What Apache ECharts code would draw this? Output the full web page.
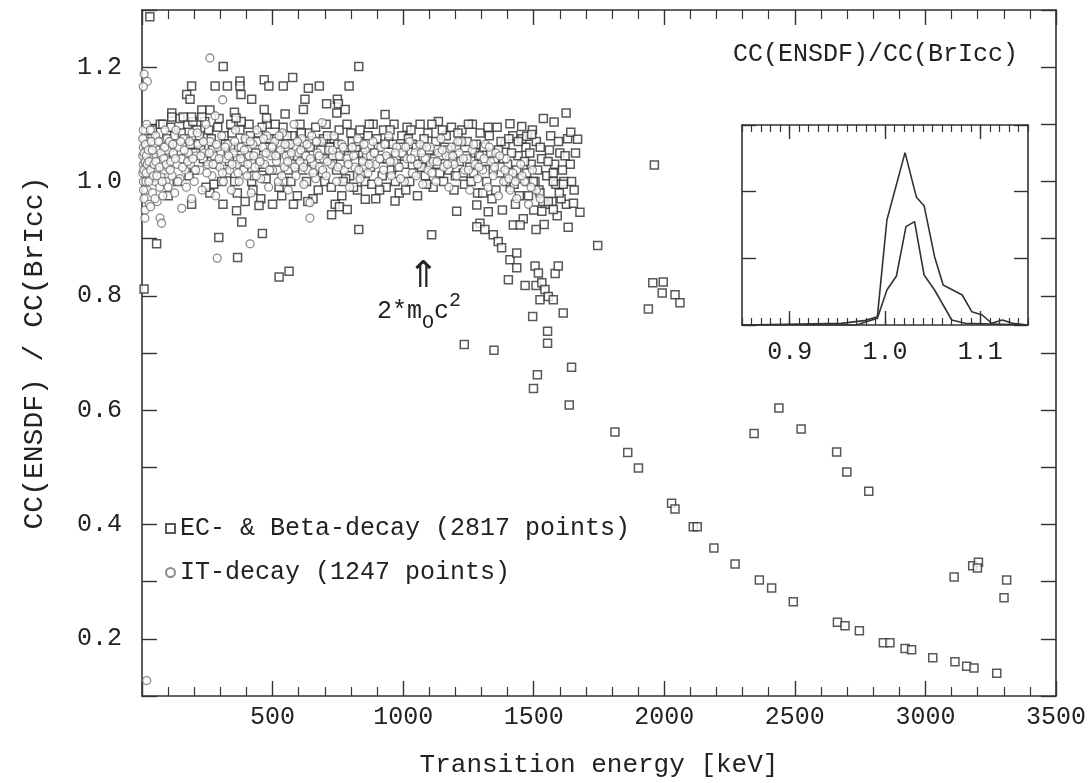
<!DOCTYPE html>
<html>
<head>
<meta charset="utf-8">
<script src="https://cdn.jsdelivr.net/npm/echarts@6/dist/echarts.min.js"></script>
<style>
html, body { margin: 0; padding: 0; background: #fff; }
#chart { width: 1088px; height: 783px; }
</style>
</head>
<body>
<div id="chart"></div>
<script>
// EC- & Beta-decay points, dense band (keV, ratio)
var ecBand = [
  [40,1.09],[55,1.06],[70,1.1],[85,1.03],[95,1.075],[110,1.095],[120,1.05],[135,1.0],[150,1.085],[160,1.04],
  [175,1.1],[185,1.065],[200,1.02],[210,1.09],[225,1.055],[240,1.105],[250,1.035],[265,1.075],[275,0.995],[290,1.095],
  [300,1.05],[315,1.08],[325,1.015],[340,1.1],[350,1.06],[365,0.98],[375,1.09],[385,1.035],[400,1.07],[410,1.1],
  [420,1.0],[435,1.05],[445,1.085],[455,0.97],[470,1.06],[480,1.1],[490,1.02],[505,1.075],[515,1.045],[525,0.99],
  [540,1.095],[550,1.06],[560,1.02],[575,1.08],[585,1.04],[595,0.975],[605,1.1],[620,1.065],[630,1.0],[640,1.085],
  [650,1.035],[665,1.095],[675,0.985],[685,1.055],[695,1.075],
  [100,0.975],[190,0.96],[260,0.98],[310,0.96],[360,1.04],[395,0.965],[430,1.01],[465,1.025],[500,0.96],[545,1.0],
  [580,0.96],[615,1.02],[655,0.97],[690,1.015],
  [30,1.075],[65,1.045],[80,1.1],[105,1.06],[125,1.08],[145,1.11],[165,1.075],[180,1.01],[195,1.105],[205,1.05],
  [220,1.08],[235,1.04],[245,0.99],[255,1.09],[270,1.055],[285,1.03],[295,1.11],[305,1.0],[320,1.065],[335,1.035],
  [345,1.085],[355,1.0],[370,1.06],[380,1.105],[390,1.02],[405,1.045],[415,1.08],[425,0.985],[440,1.07],[450,1.03],
  [460,1.095],[475,1.005],[485,1.075],[495,1.05],[510,1.1],[520,1.02],[530,1.065],[535,0.975],[555,1.08],[565,1.045],
  [570,1.0],[590,1.06],[600,1.03],[610,1.085],[625,1.045],[635,0.965],[645,1.06],[660,1.02],[670,1.07],[680,1.04],[700,1.0],
  [705,1.1],[715,1.04],[725,0.99],[735,1.075],[745,1.02],[755,1.09],[765,0.975],[775,1.055],[785,1.1],[795,1.01],
  [805,1.07],[815,1.035],[825,0.985],[835,1.09],[845,1.05],[855,1.0],[865,1.08],[875,1.025],[885,1.1],[895,0.97],
  [905,1.06],[915,1.04],[925,1.09],[935,0.99],[945,1.07],[955,1.02],[965,1.1],[975,1.045],[985,0.98],[995,1.08],
  [1005,1.03],[1015,1.095],[1025,1.0],[1035,1.065],[1045,1.04],[1055,0.975],[1065,1.1],[1075,1.055],[1085,1.01],[1095,1.085],
  [1105,1.03],[1115,0.99],[1125,1.07],[1135,1.105],[1145,1.045],[1155,1.0],[1165,1.08],[1175,1.02],[1185,1.095],[1195,0.985],
  [1205,1.06],[1215,1.035],[1225,1.09],[1235,0.995],[1245,1.07],[1255,1.025],[1265,1.1],[1275,1.05],[1285,0.98],[1295,1.085],
  [720,1.06],[740,0.96],[760,1.03],[780,1.005],[800,1.085],[820,1.06],[840,1.015],[860,1.045],[880,0.995],[900,1.075],
  [920,1.01],[940,1.04],[960,1.065],[980,1.025],[1000,1.05],[1020,1.075],[1040,1.015],[1060,1.03],[1080,1.075],[1100,1.055],
  [1120,1.04],[1140,1.015],[1160,1.06],[1180,1.045],[1200,1.01],[1220,1.07],[1240,1.045],[1260,1.0],[1280,1.065],[1300,1.03],
  [710,1.08],[730,1.045],[750,1.065],[770,1.0],[790,1.045],[810,0.99],[830,1.07],[850,1.025],[870,1.1],[890,1.05],
  [910,0.985],[930,1.065],[950,1.09],[970,1.0],[990,1.06],[1010,0.985],[1030,1.09],[1050,1.06],[1070,1.025],[1090,0.995],
  [1110,1.1],[1130,1.03],[1150,1.09],[1170,1.055],[1190,1.035],[1210,1.085],[1230,1.015],[1250,1.1],[1270,1.015],[1290,1.045],
  [1310,1.06],[1320,1.0],[1330,1.08],[1340,0.97],[1350,1.04],[1360,1.095],[1370,1.015],[1380,0.95],[1390,1.065],[1400,1.03],
  [1410,0.99],[1420,1.08],[1430,0.96],[1440,1.045],[1450,1.005],[1460,0.935],[1470,1.06],[1480,0.975],[1490,1.03],[1500,0.95],
  [1510,1.07],[1520,0.985],[1530,1.04],[1540,0.925],[1550,1.01],[1560,1.055],[1570,0.965],[1580,1.03],[1590,0.94],[1600,1.05],
  [1615,1.0],[1625,0.96],[1640,1.03],[1655,0.985],
  [1315,1.035],[1335,1.05],[1355,0.985],[1375,1.07],[1395,1.0],[1415,1.05],[1435,1.02],[1455,1.075],[1475,1.0],[1495,1.09],
  [1515,1.02],[1545,0.96],[1565,1.08],[1585,0.995],[1605,0.97],[1630,1.075],
  [1305,0.98],[1325,1.095],[1345,1.02],[1365,1.055],[1385,1.04],[1405,1.075],[1425,0.995],[1445,0.975],[1465,1.035],[1485,1.05],
  [1505,1.0],[1525,1.06],[1535,0.965],[1555,1.035],[1575,1.015],[1595,1.07],[1610,1.02],[1620,1.045],[1645,1.0],[1660,1.05]
];

// EC- & Beta-decay points away from the band
var ecOutliers = [
  [30,1.288],[311,1.201],[830,1.201],[190,1.167],[280,1.167],[327,1.167],[375,1.176],[375,1.167],[468,1.178],[486,1.167],
  [541,1.167],[577,1.182],[637,1.163],[679,1.167],[793,1.167],[171,1.152],[184,1.144],[379,1.152],[420,1.144],[624,1.144],
  [618,1.126],[707,1.136],[748,1.144],[752,1.136],[746,1.12],[778,1.126],[931,1.117],[354,1.121],[360,1.111],[468,1.126],
  [477,1.111],[548,1.118],[114,1.12],[114,1.113],[158,1.113],[190,1.113],[229,1.125],[260,1.125],[229,1.113],
  [1537,1.11],[1578,1.104],[1624,1.12],[1642,1.086],[1668,1.074],
  [1745,0.888],[1109,0.907],[830,0.916],[461,0.909],[294,0.902],[366,0.867],[382,0.929],[362,0.949],[448,0.958],[726,0.942],
  [756,0.956],[786,0.951],[525,0.833],[563,0.843],[56,0.891],[8,0.812],[969,0.966],[855,0.969],
  [1205,0.948],[1282,0.959],[1326,0.947],[1294,0.927],[1282,0.921],[1313,0.916],[1345,0.907],[1364,0.895],[1377,0.884],[1422,0.924],
  [1448,0.924],[1409,0.863],[1435,0.875],[1435,0.849],
  [1403,0.828],[1467,0.818],[1505,0.852],[1518,0.84],[1509,0.818],[1531,0.823],[1543,0.811],[1524,0.793],[1556,0.799],[1575,0.793],
  [1582,0.839],[1594,0.852],[1613,0.77],[1496,0.764],
  [1524,0.98],[1498,1.0],[1473,1.015],[1575,1.0],[1613,0.995],[1556,0.965],[1598,0.98],[1531,0.948],[1652,0.962],[1677,0.946],
  [1509,0.916],[1632,0.92],[1575,0.951],[1473,1.079],[1492,1.082],[1454,1.096],[1409,1.101],[1441,1.07],
  [1234,0.715],[1348,0.705],[1553,0.738],[1553,0.717],[1514,0.662],[1499,0.638],[1645,0.675],[1636,0.609],[1811,0.562],[1860,0.526],
  [1901,0.499],[2028,0.437],[2041,0.427],[2111,0.396],[2126,0.396],[2190,0.359],[2271,0.331],[2364,0.303],[2411,0.289],[2494,0.265],
  [2663,0.229],[2692,0.223],[2747,0.214],[2839,0.193],[2864,0.193],[2922,0.183],[2947,0.181],[3028,0.167],[3113,0.16],[3158,0.152],
  [3186,0.149],[3273,0.14],
  [2344,0.559],[2439,0.604],[2524,0.567],[2660,0.527],[2699,0.492],[2783,0.458],[3110,0.308],[3181,0.328],[3203,0.334],[3199,0.324],
  [3311,0.303],[3301,0.272],
  [1962,1.029],[1956,0.823],[1996,0.824],[1992,0.805],[2041,0.802],[2060,0.788],[1939,0.777]
];

// IT-decay points, dense band
var itBand = [
  [5,1.0],[5,1.03],[5,1.06],[5,1.09],[8,0.97],[10,1.015],[10,1.045],[10,1.075],[12,0.95],[15,1.0],
  [15,1.03],[18,1.06],[18,1.1],[20,0.985],[22,1.02],[22,1.045],[25,1.07],[28,0.96],[30,1.005],[30,1.035],
  [32,1.09],[35,1.05],[38,1.015],[40,0.98],[42,1.04],[45,1.065],[48,1.025],[50,1.0],[52,1.08],[55,1.045],
  [58,0.965],[60,1.02],[62,1.055],[65,1.035],[68,0.99],[70,1.07],[72,1.01],[75,1.045],[78,1.03],[80,0.975],
  [82,1.06],[85,1.02],[88,1.09],[90,1.04],[92,1.0],[95,1.055],[98,1.025],[100,0.99],
  [3,1.015],[3,1.045],[3,1.075],[6,0.985],[7,1.02],[8,1.05],[12,1.035],[13,1.065],[16,1.015],[17,1.045],
  [20,1.03],[24,1.055],[26,1.0],[27,1.035],[33,1.02],[36,1.07],[40,1.055],[44,1.01],[46,1.03],[53,1.035],
  [57,1.01],[63,1.07],[67,1.025],[73,1.05],[77,1.0],[83,1.04],[87,1.06],[93,1.03],[97,1.075],
  [105,1.07],[110,1.035],[115,1.01],[120,1.05],[125,0.98],[130,1.09],[135,1.03],[140,1.06],[145,1.005],[150,1.04],
  [158,1.075],[165,1.02],[170,0.99],[178,1.05],[185,1.03],[192,1.085],[200,1.0],[208,1.045],[215,1.065],[222,1.02],
  [230,0.985],[238,1.05],[245,1.1],[252,1.03],[260,1.07],[268,1.01],[275,1.045],[282,0.975],[290,1.06],[298,1.025],
  [305,1.08],[312,1.0],[320,1.04],[328,1.065],[335,1.02],[342,0.985],[350,1.05],[358,1.09],[365,1.03],[372,1.0],
  [380,1.06],[388,1.035],[395,1.075],[402,1.01],[410,1.045],[418,0.98],[425,1.065],[432,1.025],[440,1.09],[448,1.04],
  [455,1.005],[462,1.06],[470,1.03],[478,1.08],[485,0.99],[492,1.045],[500,1.02],[508,1.07],[515,1.035],[522,1.0],
  [530,1.055],[538,1.085],[545,1.025],[552,1.045],[560,0.985],[568,1.065],[575,1.03],[582,1.1],[590,1.01],[598,1.05],
  [605,1.035],[612,1.075],[620,0.995],[628,1.045],[635,1.02],[642,1.06],[650,1.08],[658,1.03],[665,1.005],[672,1.05],
  [680,1.025],[688,1.07],[695,1.04],
  [108,1.02],[118,1.065],[128,1.04],[138,1.0],[148,1.07],[155,1.025],[162,1.055],[175,1.035],[182,1.07],[195,1.04],
  [205,1.02],[212,1.085],[225,1.045],[235,1.07],[248,1.015],[258,1.05],[272,1.03],[285,1.065],[295,1.04],[308,1.015],
  [318,1.06],[332,1.045],[345,1.03],[355,1.07],[368,1.015],[378,1.04],[392,1.055],[405,1.03],[415,1.07],[428,1.045],
  [438,1.01],[452,1.035],[465,1.075],[475,1.05],[488,1.02],[498,1.06],[512,1.045],[525,1.08],[535,1.01],[548,1.065],
  [558,1.035],[572,1.05],[585,1.025],[595,1.07],[608,1.055],[618,1.025],[632,1.065],[645,1.04],[655,1.015],[668,1.07],
  [678,1.045],[692,1.02],
  [705,1.01],[715,1.055],[725,1.03],[735,1.08],[745,1.0],[755,1.045],[765,1.065],[775,1.02],[785,1.04],[795,0.99],
  [805,1.06],[815,1.025],[825,1.075],[835,1.005],[845,1.035],[855,1.055],[865,1.015],[875,1.045],[885,1.07],[895,1.03],
  [905,1.0],[915,1.06],[925,1.02],[935,1.045],[945,1.08],[955,1.01],[965,1.035],[975,1.06],[985,1.025],[995,1.05],
  [1005,1.0],[1015,1.04],[1025,1.07],[1035,1.015],[1045,1.05],[1055,1.03],[1065,1.065],[1075,0.995],[1085,1.04],[1095,1.02],
  [1105,1.06],[1115,1.035],[1125,1.0],[1135,1.05],[1145,1.075],[1155,1.025],[1165,1.045],[1175,0.99],[1185,1.06],[1195,1.03],
  [1205,1.01],[1215,1.05],[1225,1.07],[1235,1.02],[1245,1.04],[1255,0.985],[1265,1.055],[1275,1.03],[1285,1.005],[1295,1.045],
  [1305,1.02],[1315,1.065],[1325,0.99],[1335,1.035],[1345,1.01],[1355,1.05],[1365,0.975],[1375,1.025],[1385,1.0],[1395,1.04],
  [1410,0.985],[1420,1.015],[1435,0.97],[1450,1.03],[1465,1.0],[1480,0.96],[1495,1.02],[1510,0.985],[1525,0.97],
  [710,1.035],[730,1.055],[750,1.025],[770,1.06],[790,1.03],[810,1.045],[830,1.02],[850,1.065],[870,1.03],[890,1.05],
  [910,1.04],[930,1.065],[950,1.035],[970,1.05],[990,1.005],[1010,1.06],[1030,1.04],[1050,1.01],[1070,1.05],[1090,1.06],
  [1110,1.015],[1130,1.035],[1150,1.055],[1170,1.03],[1190,1.045],[1210,1.07],[1230,1.04],[1250,1.02],[1270,1.065],[1290,1.025],
  [1310,1.04],[1330,1.06],[1350,1.025],[1370,1.045],[1390,1.02],[1405,1.005],[1430,1.0],[1455,1.01],[1490,0.99]
];

// IT-decay points away from the band
var itOutliers = [
  [260,1.216],[309,1.143],[280,1.115],[690,1.103],[8,1.188],[20,1.175],[5,1.166],[643,0.963],[643,0.936],[414,0.891],
  [288,0.866],[11,0.936],[69,0.936],[75,0.927],[33,0.956],[50,0.97],[152,0.953],[190,0.97],[18,0.127]
];

// inset histograms of the ratio
var insetEc = [
  [0.85,0],[0.954,0.025],[0.978,0.065],[0.992,0.125],[1.002,1.575],[1.021,2.585],[1.033,1.915],[1.041,1.79],[1.052,1.025],
  [1.061,0.6],[1.081,0.45],[1.091,0.2],[1.102,0.15],[1.112,0.025],[1.123,0.075],[1.134,0.025],[1.15,0]
];
var insetIt = [
  [0.85,0],[0.97,0],[0.992,0.1],[1.002,0.525],[1.012,0.735],[1.022,1.475],[1.031,1.55],[1.041,0.75],[1.052,0.525],
  [1.070,0.075],[1.084,0.025],[1.15,0]
];
var insetTickValues = [0.9, 1.0, 1.1];
var seriesNames = ['EC- & Beta-decay (2817 points)', 'IT-decay (1247 points)'];

var font = 'Liberation Mono';
var ink = '#333';
var textInk = '#222';

function lineStyle(w) { return { color: ink, width: w }; }

var chart = echarts.init(document.getElementById('chart'));

var option = {
  animation: false,
  backgroundColor: '#fff',
  title: {
    text: 'CC(ENSDF)/CC(BrIcc)',
    left: 728, top: 37,
    textStyle: { fontFamily: font, fontSize: 25, fontWeight: 'normal', color: textInk }
  },
  legend: {
    data: seriesNames,
    orient: 'vertical',
    left: 160, top: 511,
    itemWidth: 9, itemHeight: 9, itemGap: 19,
    textStyle: { fontFamily: font, fontSize: 25, color: textInk }
  },
  grid: [
    { left: 142, right: 32, top: 10, bottom: 87, outerBoundsMode: 'none' },
    { left: 742, top: 125, width: 286, height: 200, outerBoundsMode: 'none' }
  ],
  xAxis: [
    {
      gridIndex: 0, type: 'value', position: 'bottom', min: 0, max: 3500, interval: 500,
      axisLine: { onZero: false, lineStyle: lineStyle(1.6) },
      axisTick: { inside: true, length: 15, lineStyle: lineStyle(1.4) },
      minorTick: { show: true, splitNumber: 5, length: 9, lineStyle: lineStyle(1.2) },
      splitLine: { show: false },
      axisLabel: {
        margin: 9, fontFamily: font, fontSize: 25, color: textInk,
        formatter: function (v) { return v === 0 ? '' : String(v); }
      },
      name: 'Transition energy [keV]', nameLocation: 'middle', nameGap: 56,
      nameTextStyle: { fontFamily: font, fontSize: 26, color: textInk }
    },
    {
      gridIndex: 0, type: 'value', position: 'top', min: 0, max: 3500, interval: 500,
      axisLine: { onZero: false, lineStyle: lineStyle(1.6) },
      axisTick: { inside: true, length: 15, lineStyle: lineStyle(1.4) },
      minorTick: { show: true, splitNumber: 5, length: 9, lineStyle: lineStyle(1.2) },
      splitLine: { show: false },
      axisLabel: { show: false }
    },
    {
      gridIndex: 1, type: 'value', position: 'bottom', min: 0.85, max: 1.15, interval: 0.01,
      axisLine: { onZero: false, lineStyle: lineStyle(1.6) },
      axisTick: { inside: true, length: 7, lineStyle: lineStyle(1.2) },
      splitLine: { show: false },
      axisLabel: {
        margin: 15, fontFamily: font, fontSize: 25, color: textInk,
        formatter: function (v) {
          var k = Math.round(v * 100);
          return k % 10 === 0 ? (k / 100).toFixed(1) : '';
        }
      }
    },
    {
      gridIndex: 1, type: 'value', position: 'bottom', min: 0.85, max: 1.15,
      axisLine: { show: false, onZero: false },
      axisTick: { inside: true, length: 14, customValues: insetTickValues, lineStyle: lineStyle(1.4) },
      splitLine: { show: false },
      axisLabel: { show: false }
    },
    {
      gridIndex: 1, type: 'value', position: 'top', min: 0.85, max: 1.15, interval: 0.01,
      axisLine: { onZero: false, lineStyle: lineStyle(1.6) },
      axisTick: { inside: true, length: 7, lineStyle: lineStyle(1.2) },
      splitLine: { show: false },
      axisLabel: { show: false }
    },
    {
      gridIndex: 1, type: 'value', position: 'top', min: 0.85, max: 1.15,
      axisLine: { show: false, onZero: false },
      axisTick: { inside: true, length: 14, customValues: insetTickValues, lineStyle: lineStyle(1.4) },
      splitLine: { show: false },
      axisLabel: { show: false }
    }
  ],
  yAxis: [
    {
      gridIndex: 0, type: 'value', position: 'left', min: 0.1, max: 1.3, interval: 0.1,
      axisLine: { onZero: false, lineStyle: lineStyle(1.6) },
      axisTick: { inside: true, length: 15, lineStyle: lineStyle(1.4) },
      splitLine: { show: false },
      axisLabel: {
        margin: 20, fontFamily: font, fontSize: 25, color: textInk,
        formatter: function (v) {
          var k = Math.round(v * 10);
          return k % 2 === 0 ? (k / 10).toFixed(1) : '';
        }
      },
      name: 'CC(ENSDF) / CC(BrIcc)', nameLocation: 'middle', nameGap: 93, nameRotate: 90,
      nameTextStyle: { fontFamily: font, fontSize: 28, color: textInk }
    },
    {
      gridIndex: 0, type: 'value', position: 'right', min: 0.1, max: 1.3, interval: 0.1,
      axisLine: { onZero: false, lineStyle: lineStyle(1.6) },
      axisTick: { inside: true, length: 15, lineStyle: lineStyle(1.4) },
      splitLine: { show: false },
      axisLabel: { show: false }
    },
    {
      gridIndex: 1, type: 'value', position: 'left', min: 0, max: 3, interval: 1,
      axisLine: { onZero: false, lineStyle: lineStyle(1.6) },
      axisTick: { inside: true, length: 14, lineStyle: lineStyle(1.4) },
      splitLine: { show: false },
      axisLabel: { show: false }
    },
    {
      gridIndex: 1, type: 'value', position: 'right', min: 0, max: 3, interval: 1,
      axisLine: { onZero: false, lineStyle: lineStyle(1.6) },
      axisTick: { inside: true, length: 14, lineStyle: lineStyle(1.4) },
      splitLine: { show: false },
      axisLabel: { show: false }
    }
  ],
  series: [
    {
      name: seriesNames[0], type: 'scatter', xAxisIndex: 0, yAxisIndex: 0,
      symbol: 'rect', symbolSize: 8,
      itemStyle: { color: '#fff', borderColor: '#2e2e2e', borderWidth: 1.5 },
      data: ecBand.concat(ecOutliers),
      markPoint: {
        symbol: 'circle', symbolSize: 1, silent: true,
        itemStyle: { color: 'rgba(0,0,0,0)' },
        data: [
          {
            coord: [1076, 0.832],
            label: { show: true, position: 'inside', formatter: '\u21D1', fontFamily: 'DejaVu Sans', fontSize: 37, color: textInk }
          },
          {
            coord: [1061, 0.772],
            label: {
              show: true, position: 'inside', formatter: '{b|2*m}{sub|O}{b|c}{sup|2}',
              rich: {
                b: { fontFamily: font, fontSize: 25, lineHeight: 42, color: textInk },
                sub: { fontFamily: font, fontSize: 20, lineHeight: 20, verticalAlign: 'bottom', color: textInk },
                sup: { fontFamily: font, fontSize: 20, lineHeight: 20, verticalAlign: 'top', color: textInk }
              }
            }
          }
        ]
      }
    },
    {
      name: seriesNames[1], type: 'scatter', xAxisIndex: 0, yAxisIndex: 0,
      symbol: 'circle', symbolSize: 8,
      itemStyle: { color: '#fff', borderColor: '#6e6e6e', borderWidth: 1.3 },
      data: itBand.concat(itOutliers)
    },
    {
      type: 'line', xAxisIndex: 2, yAxisIndex: 2, showSymbol: false, silent: true,
      lineStyle: { color: '#333', width: 1.6 },
      data: insetEc
    },
    {
      type: 'line', xAxisIndex: 2, yAxisIndex: 2, showSymbol: false, silent: true,
      lineStyle: { color: '#333', width: 1.6 },
      data: insetIt
    }
  ]
};

chart.setOption(option);
</script>
</body>
</html>
